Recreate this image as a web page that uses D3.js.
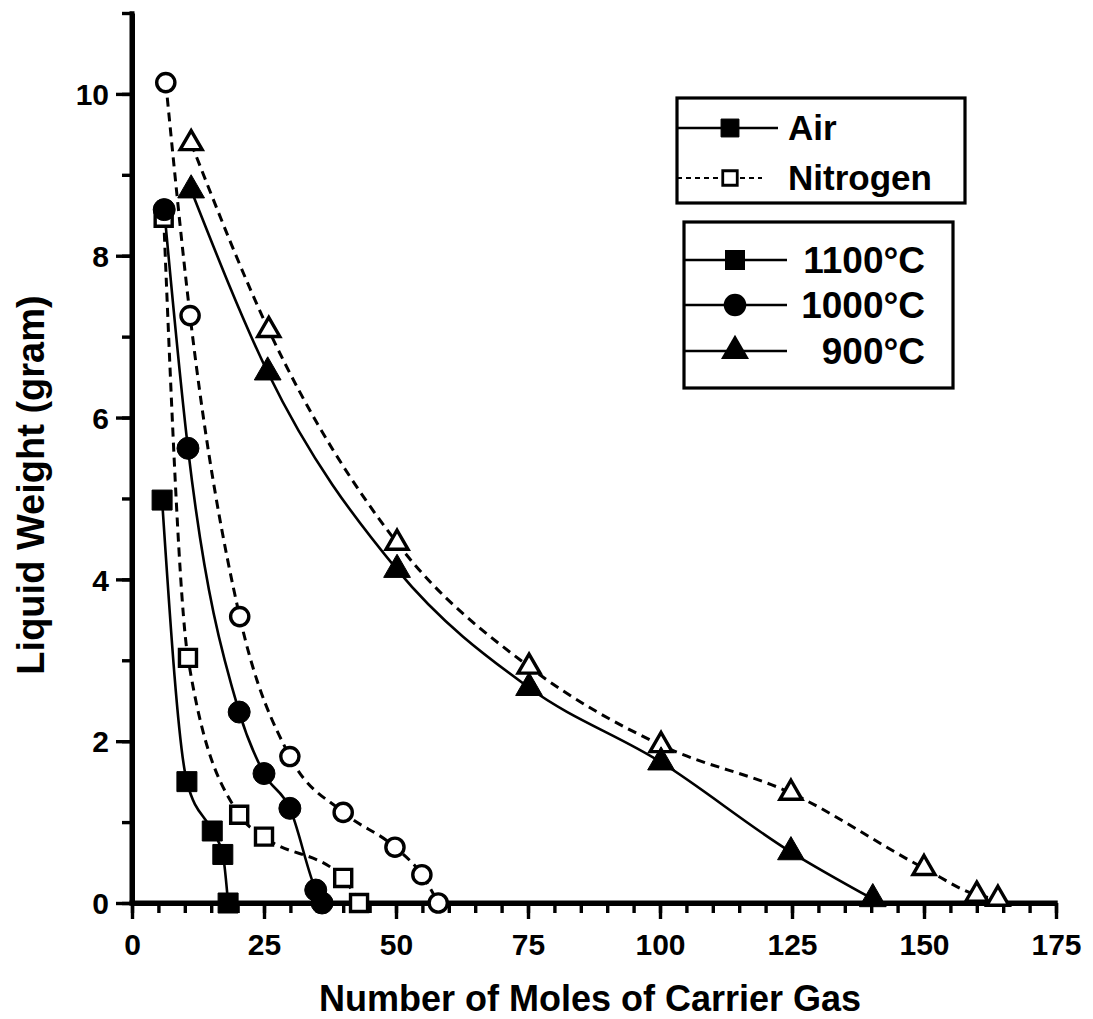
<!DOCTYPE html>
<html>
<head>
<meta charset="utf-8">
<script src="https://cdn.jsdelivr.net/npm/d3@7"></script>
<style>
  html, body { margin: 0; padding: 0; background: #fff; }
  svg { display: block; }
  text { font-family: "Liberation Sans", Arial, Helvetica, sans-serif; font-weight: bold; fill: #000; }
</style>
</head>
<body>
<svg id="chart" width="1093" height="1019"></svg>
<script>
// Liquid weight remaining vs. moles of carrier gas passed, by furnace temperature and gas.
const xMajorTicks = [0, 25, 50, 75, 100, 125, 150, 175];
const yMajorTicks = [0, 2, 4, 6, 8, 10];

// [moles of carrier gas, liquid weight (g)]
const air1100 = [[5.7, 4.98], [10.4, 1.5], [15.2, 0.89], [17.2, 0.6], [18.2, 0]];
const nitrogen1100 = [[6.0, 8.47], [10.6, 3.03], [20.3, 1.09], [25.0, 0.82], [40.0, 0.31], [43.0, 0]];
const air1000 = [[6.1, 8.57], [10.6, 5.62], [20.3, 2.36], [25.0, 1.6], [29.9, 1.17], [34.8, 0.16], [36.0, 0]];
const nitrogen1000 = [[6.4, 10.14], [11.0, 7.26], [20.4, 3.54], [29.9, 1.81], [40.0, 1.12], [49.8, 0.69], [54.9, 0.35], [58.0, 0]];
const air900 = [[11.2, 8.81], [25.7, 6.56], [50.2, 4.12], [75.2, 2.66], [100.2, 1.74], [124.8, 0.63], [140.3, 0.05]];
const nitrogen900 = [[11.2, 9.39], [25.9, 7.08], [50.2, 4.45], [75.2, 2.92], [100.2, 1.95], [124.8, 1.36], [150.0, 0.43], [160.0, 0.1], [164.0, 0.05]];

const gasLegend = ["Air", "Nitrogen"];
const tempLegend = ["1100°C", "1000°C", "900°C"];

const svg = d3.select("#chart");

const x = d3.scaleLinear().domain([0, 175]).range([132, 1056]);
const y = d3.scaleLinear().domain([0, 11]).range([903, 13]);

// ---- axes ----
const axisStroke = 5;
function styleAxis(g) {
  g.selectAll("path.domain").attr("stroke", "#000").attr("stroke-width", axisStroke);
  g.selectAll(".tick line").attr("stroke", "#000").attr("stroke-width", 3.4);
  g.selectAll(".tick text").attr("font-size", 30).attr("font-family", "Liberation Sans, Arial, sans-serif").attr("font-weight", "bold").attr("fill", "#000");
}

// minor x ticks every 5
svg.append("g")
  .attr("transform", `translate(0,${y(0)})`)
  .call(d3.axisBottom(x).tickValues(d3.range(0, 176, 5)).tickSize(10).tickSizeOuter(0).tickFormat(""))
  .call(styleAxis);
// major x ticks with labels
svg.append("g")
  .attr("transform", `translate(0,${y(0)})`)
  .call(d3.axisBottom(x).tickValues(xMajorTicks).tickSize(16).tickSizeOuter(0).tickPadding(15).tickFormat(d3.format("d")))
  .call(styleAxis)
  .call(g => g.select("path.domain").attr("d", `M${x(0) - 2.5},0H${x(175) + 1.7}`));

// minor y ticks every 1
svg.append("g")
  .attr("transform", `translate(${x(0)},0)`)
  .call(d3.axisLeft(y).tickValues(d3.range(0, 12, 1)).tickSize(10).tickSizeOuter(0).tickFormat(""))
  .call(styleAxis);
// major y ticks with labels
svg.append("g")
  .attr("transform", `translate(${x(0)},0)`)
  .call(d3.axisLeft(y).tickValues(yMajorTicks).tickSize(16).tickSizeOuter(0).tickPadding(7).tickFormat(d3.format("d")))
  .call(styleAxis)
  .call(g => g.selectAll(".tick text").attr("dy", "0.36em"))
  .call(g => g.select("path.domain").attr("d", `M0,${y(0) + 2.5}V${y(11) - 1.7}`));

// axis titles
svg.append("text")
  .attr("x", (x(0) + x(175)) / 2 - 4)
  .attr("y", 1011)
  .attr("text-anchor", "middle")
  .attr("font-size", 36)
  .text("Number of Moles of Carrier Gas");

svg.append("text")
  .attr("transform", `translate(44,${485}) rotate(-90)`)
  .attr("text-anchor", "middle")
  .attr("font-size", 38)
  .text("Liquid Weight (gram)");

// ---- curves ----
const line = d3.line()
  .x(d => x(d[0]))
  .y(d => y(d[1]))
  .curve(d3.curveMonotoneX);

const series = [
  { data: nitrogen900, dashed: true, symbol: d3.symbolTriangle, size: 210, filled: false },
  { data: nitrogen1000, dashed: true, symbol: d3.symbolCircle, size: 260, filled: false },
  { data: nitrogen1100, dashed: true, symbol: d3.symbolSquare, size: 290, filled: false },
  { data: air900, dashed: false, symbol: d3.symbolTriangle, size: 310, filled: true },
  { data: air1000, dashed: false, symbol: d3.symbolCircle, size: 380, filled: true },
  { data: air1100, dashed: false, symbol: d3.symbolSquare, size: 400, filled: true }
];

const curves = svg.append("g");
series.forEach(s => {
  curves.append("path")
    .datum(s.data)
    .attr("d", line)
    .attr("fill", "none")
    .attr("stroke", "#000")
    .attr("stroke-width", s.dashed ? 3 : 2.6)
    .attr("stroke-dasharray", s.dashed ? "9,6" : null);
});

const marks = svg.append("g");
series.forEach(s => {
  const sym = d3.symbol().type(s.symbol).size(s.size);
  marks.selectAll(null)
    .data(s.data)
    .join("path")
    .attr("transform", d => `translate(${x(d[0])},${y(d[1])})`)
    .attr("d", sym)
    .attr("fill", s.filled ? "#000" : "#fff")
    .attr("stroke", "#000")
    .attr("stroke-width", s.filled ? 1 : 3.4);
});

// ---- legends ----
const legend1 = svg.append("g");
legend1.append("rect")
  .attr("x", 677).attr("y", 98).attr("width", 288).attr("height", 105)
  .attr("fill", "#fff").attr("stroke", "#000").attr("stroke-width", 3.2);

const gasRows = [
  { label: gasLegend[0], dashed: false, filled: true, yy: 128 },
  { label: gasLegend[1], dashed: true, filled: false, yy: 178 }
];
gasRows.forEach(r => {
  legend1.append("line")
    .attr("x1", 677).attr("x2", r.dashed ? 762 : 778)
    .attr("y1", r.yy).attr("y2", r.yy)
    .attr("stroke", "#000").attr("stroke-width", r.dashed ? 2.2 : 2.4)
    .attr("stroke-dasharray", r.dashed ? "5,4" : null);
  legend1.append("path")
    .attr("transform", `translate(730,${r.yy})`)
    .attr("d", d3.symbol().type(d3.symbolSquare).size(r.filled ? 320 : 210))
    .attr("fill", r.filled ? "#000" : "#fff")
    .attr("stroke", "#000").attr("stroke-width", r.filled ? 1 : 2.8);
  legend1.append("text")
    .attr("x", 788).attr("y", r.yy + 12)
    .attr("font-size", 35)
    .text(r.label);
});

const legend2 = svg.append("g");
legend2.append("rect")
  .attr("x", 684).attr("y", 222).attr("width", 269).attr("height", 166)
  .attr("fill", "#fff").attr("stroke", "#000").attr("stroke-width", 3.2);

const tempRows = [
  { label: tempLegend[0], symbol: d3.symbolSquare, size: 400, yy: 260 },
  { label: tempLegend[1], symbol: d3.symbolCircle, size: 400, yy: 305 },
  { label: tempLegend[2], symbol: d3.symbolTriangle, size: 340, yy: 351 }
];
tempRows.forEach(r => {
  legend2.append("line")
    .attr("x1", 684).attr("x2", 787)
    .attr("y1", r.yy).attr("y2", r.yy)
    .attr("stroke", "#000").attr("stroke-width", 2.4);
  legend2.append("path")
    .attr("transform", `translate(735,${r.yy})`)
    .attr("d", d3.symbol().type(r.symbol).size(r.size))
    .attr("fill", "#000");
  legend2.append("text")
    .attr("x", 925).attr("y", r.yy + 13)
    .attr("text-anchor", "end")
    .attr("font-size", 37)
    .text(r.label);
});
</script>
</body>
</html>
